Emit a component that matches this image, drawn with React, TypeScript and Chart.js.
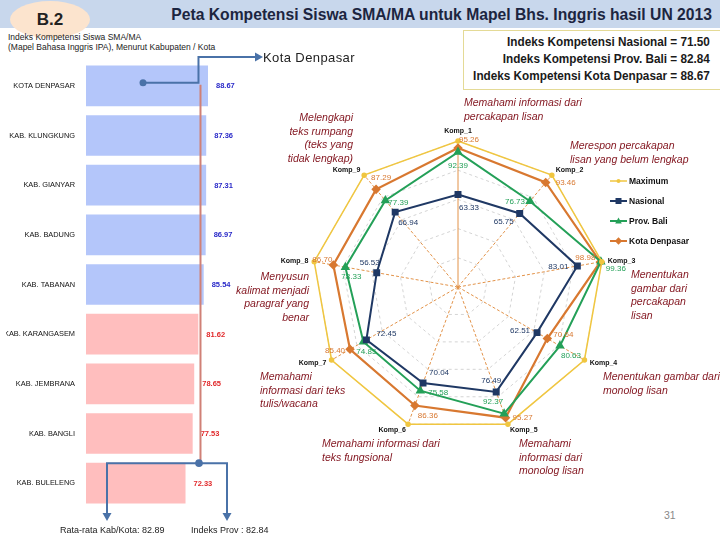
import React, { useEffect, useRef } from "react";
import { Chart, registerables } from "chart.js";
Chart.register(...registerables);

// ---------- DATA ----------
const regions = [
  "KOTA DENPASAR",
  "KAB. KLUNGKUNG",
  "KAB. GIANYAR",
  "KAB. BADUNG",
  "KAB. TABANAN",
  "KAB. KARANGASEM",
  "KAB. JEMBRANA",
  "KAB. BANGLI",
  "KAB. BULELENG",
];
const regionScores = [88.67, 87.36, 87.31, 86.97, 85.54, 81.62, 78.65, 77.53, 72.33];
const provIndex = 82.84;
const avgKabKota = 82.89;
const nationalIndex = 71.5;
const denpasarIndex = 88.67;

const kompLabels = ["Komp_1", "Komp_2", "Komp_3", "Komp_4", "Komp_5", "Komp_6", "Komp_7", "Komp_8", "Komp_9"];
const maximumValues = [100, 100, 100, 100, 100, 100, 100, 100, 100];
const nasionalValues = [63.33, 65.75, 83.01, 62.51, 76.49, 70.04, 72.45, 56.53, 66.94];
const provBaliValues = [92.39, 76.73, 99.36, 80.63, 92.37, 75.58, 74.85, 78.33, 77.39];
const denpasarValues = [95.26, 93.46, 98.98, 70.64, 95.27, 86.36, 85.4, 86.7, 87.29];

// label nudges (pixels) for the value labels, per point
const nasionalLabelNudge = [[11, 13], [-16, 8], [-19, 1], [-17, -2], [-5, -11], [16, -10], [20, -6], [-7, -10], [13, 11]];
const provLabelNudge = [[0, 14], [-15, 1], [15, 7], [11, 10], [-11, -12], [18, 2], [3, 10], [6, 10], [13, 2]];
const denpasarLabelNudge = [[11, -8], [20, 0], [-15, -4], [16, -4], [17, 0], [13, 10], [-15, 1], [-11, -5], [5, -12]];

const C_MAX = "rgb(240,198,64)";
const C_NAS = "rgb(31,56,100)";
const C_PROV = "rgb(36,160,88)";
const C_DPS = "rgb(216,120,48)";
const C_ARROW = "rgb(74,114,168)";
const FONT = '"Liberation Sans", Arial, sans-serif';

function arrowHead(ctx: CanvasRenderingContext2D, x: number, y: number, dir: "down" | "right") {
  ctx.beginPath();
  if (dir === "down") {
    ctx.moveTo(x - 4.5, y - 8);
    ctx.lineTo(x + 4.5, y - 8);
    ctx.lineTo(x, y);
  } else {
    ctx.moveTo(x - 8, y - 4.5);
    ctx.lineTo(x - 8, y + 4.5);
    ctx.lineTo(x, y);
  }
  ctx.closePath();
  ctx.fill();
}

const barDecor = {
  id: "barDecor",
  afterDatasetsDraw(chart: any) {
    const { ctx } = chart;
    const x = chart.scales.x;
    const y = chart.scales.y;
    const meta = chart.getDatasetMeta(0);
    ctx.save();
    ctx.font = "bold 7.5px " + FONT;
    ctx.textBaseline = "middle";
    ctx.textAlign = "left";
    meta.data.forEach((bar: any, i: number) => {
      const v = regionScores[i];
      ctx.fillStyle = v >= provIndex ? "rgb(40,40,200)" : "rgb(225,40,42)";
      ctx.fillText(v.toFixed(2), bar.x + 8, bar.y + 0.5);
    });
    // province index line
    const px = x.getPixelForValue(provIndex);
    const yTop = y.getPixelForValue(0) - 1;
    const yBot = y.getPixelForValue(regions.length - 1) - 20;
    ctx.strokeStyle = "rgb(208,128,118)";
    ctx.lineWidth = 2;
    ctx.beginPath();
    ctx.moveTo(px + 0.5, yTop);
    ctx.lineTo(px + 0.5, yBot);
    ctx.stroke();

    // connectors
    ctx.strokeStyle = C_ARROW;
    ctx.fillStyle = C_ARROW;
    ctx.lineWidth = 2;
    const cx = px - 1.5;
    const dotY = yTop - 2;
    ctx.beginPath();
    ctx.moveTo(143, dotY);
    ctx.lineTo(cx, dotY);
    ctx.lineTo(cx, 57);
    ctx.lineTo(256, 57);
    ctx.stroke();
    arrowHead(ctx, 263, 57, "right");
    ctx.beginPath();
    ctx.arc(143, dotY, 3.5, 0, Math.PI * 2);
    ctx.fill();

    ctx.beginPath();
    ctx.moveTo(107, 521 - 8);
    ctx.lineTo(107, yBot);
    ctx.lineTo(227, yBot);
    ctx.lineTo(227, 521 - 8);
    ctx.stroke();
    arrowHead(ctx, 107, 521, "down");
    arrowHead(ctx, 227, 521, "down");
    ctx.beginPath();
    ctx.arc(cx + 0.5, yBot, 3.8, 0, Math.PI * 2);
    ctx.fill();
    ctx.restore();
  },
};

function drawMarker(ctx: CanvasRenderingContext2D, style: string, x: number, y: number, r: number) {
  ctx.beginPath();
  if (style === "rect") {
    ctx.rect(x - r, y - r, 2 * r, 2 * r);
  } else if (style === "triangle") {
    ctx.moveTo(x, y - r * 1.2);
    ctx.lineTo(x + r * 1.1, y + r * 0.8);
    ctx.lineTo(x - r * 1.1, y + r * 0.8);
    ctx.closePath();
  } else if (style === "rectRot") {
    ctx.moveTo(x, y - r * 1.3);
    ctx.lineTo(x + r * 1.3, y);
    ctx.lineTo(x, y + r * 1.3);
    ctx.lineTo(x - r * 1.3, y);
    ctx.closePath();
  } else {
    ctx.arc(x, y, r, 0, Math.PI * 2);
  }
  ctx.fill();
}

const RADAR_LEFT = 250;
const RADAR_TOP = 90;

const radarDecor = {
  id: "radarDecor",
  afterDatasetsDraw(chart: any) {
    const { ctx } = chart;
    const scale = chart.scales.r;
    ctx.save();
    // point labels
    ctx.font = "bold 7px " + FONT;
    ctx.fillStyle = "#111";
    ctx.textBaseline = "middle";
    kompLabels.forEach((lab, i) => {
      const p = scale.getPointPosition(i, scale.drawingArea + 6);
      const dx = p.x - scale.xCenter;
      let yy = p.y;
      if (Math.abs(dx) < 3) {
        ctx.textAlign = "center";
        yy -= 4;
      } else if (dx > 0) ctx.textAlign = "left";
      else ctx.textAlign = "right";
      ctx.fillText(lab, p.x, yy);
    });

    // value labels
    const groups = [
      { ds: 1, vals: nasionalValues, nudge: nasionalLabelNudge, color: C_NAS },
      { ds: 2, vals: provBaliValues, nudge: provLabelNudge, color: C_PROV },
      { ds: 3, vals: denpasarValues, nudge: denpasarLabelNudge, color: C_DPS },
    ];
    ctx.font = "8px " + FONT;
    ctx.textAlign = "center";
    groups.forEach((g) => {
      const meta = chart.getDatasetMeta(g.ds);
      ctx.fillStyle = g.color;
      meta.data.forEach((pt: any, i: number) => {
        ctx.fillText(g.vals[i].toFixed(2), pt.x + g.nudge[i][0], pt.y + g.nudge[i][1]);
      });
    });

    // legend
    const items = [
      { label: "Maximum", color: C_MAX, style: "circle", r: 2, w: 1.5 },
      { label: "Nasional", color: C_NAS, style: "rect", r: 3, w: 2 },
      { label: "Prov. Bali", color: C_PROV, style: "triangle", r: 3, w: 2 },
      { label: "Kota Denpasar", color: C_DPS, style: "rectRot", r: 2.8, w: 2 },
    ];
    ctx.font = "bold 8.5px " + FONT;
    ctx.textAlign = "left";
    items.forEach((it, k) => {
      const ly = 181 + k * 20 - RADAR_TOP;
      const lx = 610 - RADAR_LEFT;
      ctx.strokeStyle = it.color;
      ctx.fillStyle = it.color;
      ctx.lineWidth = it.w;
      ctx.beginPath();
      ctx.moveTo(lx, ly);
      ctx.lineTo(lx + 17, ly);
      ctx.stroke();
      drawMarker(ctx, it.style, lx + 8.5, ly, it.r);
      ctx.fillStyle = "#111";
      ctx.fillText(it.label, lx + 19, ly + 0.5);
    });
    ctx.restore();
  },
};

type Note = { lines: string[]; x: number; y: number; align: "left" | "right" };
const notes: Note[] = [
  { lines: ["Memahami informasi dari", "percakapan lisan"], x: 464, y: 103, align: "left" },
  { lines: ["Melengkapi", "teks rumpang", "(teks yang", "tidak lengkap)"], x: 353, y: 118, align: "right" },
  { lines: ["Merespon percakapan", "lisan yang belum lengkap"], x: 570, y: 146, align: "left" },
  { lines: ["Menentukan", "gambar dari", "percakapan", "lisan"], x: 631, y: 275, align: "left" },
  { lines: ["Menentukan gambar dari", "monolog lisan"], x: 603, y: 377, align: "left" },
  { lines: ["Memahami informasi dari", "teks fungsional"], x: 322, y: 444, align: "left" },
  { lines: ["Memahami", "informasi dari", "monolog lisan"], x: 519, y: 444, align: "left" },
  { lines: ["Memahami", "informasi dari teks", "tulis/wacana"], x: 260, y: 377, align: "left" },
  { lines: ["Menyusun", "kalimat menjadi", "paragraf yang", "benar"], x: 309, y: 277, align: "right" },
];

export default function App() {
  const barRef = useRef<HTMLCanvasElement>(null);
  const radarRef = useRef<HTMLCanvasElement>(null);

  useEffect(() => {
    const bar = new Chart(barRef.current as HTMLCanvasElement, {
      type: "bar",
      data: {
        labels: regions,
        datasets: [
          {
            data: regionScores,
            backgroundColor: regionScores.map((v) => (v >= provIndex ? "rgb(180,198,250)" : "rgb(255,190,190)")),
            borderWidth: 0,
            barPercentage: 0.82,
            categoryPercentage: 1,
          },
        ],
      },
      options: {
        indexAxis: "y",
        responsive: false,
        animation: false,
        layout: { padding: { left: 6, top: 61, right: 46.4, bottom: 32 } },
        plugins: { legend: { display: false }, tooltip: { enabled: false } },
        scales: {
          x: { display: false, min: 0, max: 100 },
          y: {
            grid: { display: false, drawTicks: false },
            border: { display: false },
            ticks: { color: "#111", font: { size: 7.4, family: FONT }, padding: 11 },
            afterFit: (s: any) => {
              s.width = 80;
            },
          },
        },
      } as any,
      plugins: [barDecor],
    });

    const radar = new Chart(radarRef.current as HTMLCanvasElement, {
      type: "radar",
      data: {
        labels: kompLabels,
        datasets: [
          {
            label: "Maximum",
            data: maximumValues,
            borderColor: C_MAX,
            backgroundColor: C_MAX,
            pointBackgroundColor: C_MAX,
            pointBorderColor: C_MAX,
            borderWidth: 1.5,
            pointStyle: "circle",
            pointRadius: 2,
            fill: false,
          },
          {
            label: "Nasional",
            data: nasionalValues,
            borderColor: C_NAS,
            backgroundColor: C_NAS,
            pointBackgroundColor: C_NAS,
            pointBorderColor: C_NAS,
            borderWidth: 2,
            pointStyle: "rect",
            pointRadius: 3.5,
            fill: false,
          },
          {
            label: "Prov. Bali",
            data: provBaliValues,
            borderColor: C_PROV,
            backgroundColor: C_PROV,
            pointBackgroundColor: C_PROV,
            pointBorderColor: C_PROV,
            borderWidth: 2,
            pointStyle: "triangle",
            pointRadius: 3.5,
            fill: false,
          },
          {
            label: "Kota Denpasar",
            data: denpasarValues,
            borderColor: C_DPS,
            backgroundColor: C_DPS,
            pointBackgroundColor: C_DPS,
            pointBorderColor: C_DPS,
            borderWidth: 2.2,
            pointStyle: "rectRot",
            pointRadius: 3.2,
            fill: false,
          },
        ],
      },
      options: {
        responsive: false,
        animation: false,
        layout: { padding: { left: 62, top: 51, right: 116, bottom: 57 } },
        plugins: { legend: { display: false }, tooltip: { enabled: false } },
        scales: {
          r: {
            min: 0,
            max: 100,
            ticks: { display: false, stepSize: 20 },
            pointLabels: { display: false },
            grid: { color: "rgb(212,212,212)", lineWidth: 1 },
            border: { dash: [3, 3] },
            angleLines: {
              color: "rgb(226,146,72)",
              lineWidth: 1,
              borderDash: (c: any) => (c.index === 0 ? [] : [3, 2]),
            },
          },
        },
      } as any,
      plugins: [radarDecor],
    });

    return () => {
      bar.destroy();
      radar.destroy();
    };
  }, []);

  const abs = (s: React.CSSProperties): React.CSSProperties => ({ position: "absolute", whiteSpace: "pre", ...s });

  return (
    <div style={{ position: "fixed", left: 0, top: 0, width: 720, height: 540, background: "#fff", overflow: "hidden", fontFamily: FONT }}>
      {/* header band */}
      <div style={abs({ left: 0, top: 0, width: 720, height: 28, background: "rgb(200,215,236)" })} />
      <div style={abs({ left: 10, top: 1, width: 80, height: 37, borderRadius: "50%", background: "rgb(252,228,206)" })} />
      <div style={abs({ left: 10, top: 1, width: 80, height: 37, lineHeight: "37px", textAlign: "center", fontWeight: "bold", fontSize: 17, color: "#222" })}>B.2</div>
      <div style={abs({ right: 8, top: 5, lineHeight: "20px", fontWeight: "bold", fontSize: 15.7, color: "#1c2540" })}>
        Peta Kompetensi Siswa SMA/MA untuk Mapel Bhs. Inggris hasil UN 2013
      </div>
      <div style={abs({ left: 8, top: 32, fontSize: 8.5, lineHeight: "10px", color: "#222" })}>
        {"Indeks Kompetensi Siswa SMA/MA\n(Mapel Bahasa Inggris IPA), Menurut Kabupaten / Kota"}
      </div>

      {/* info box */}
      <div style={abs({ left: 463, top: 30, width: 270, height: 58, border: "1px solid rgb(228,218,150)", background: "#fff" })} />
      <div
        style={abs({
          right: 10,
          top: 34,
          textAlign: "right",
          fontWeight: "bold",
          fontSize: 12.5,
          lineHeight: "17px",
          color: "#1a1a1a",
          transform: "scaleX(0.94)",
          transformOrigin: "right top",
        })}
      >
        {`Indeks Kompetensi Nasional = ${nationalIndex.toFixed(2)}\nIndeks Kompetensi Prov. Bali = ${provIndex.toFixed(2)}\nIndeks Kompetensi Kota Denpasar = ${denpasarIndex.toFixed(2)}`}
      </div>

      <canvas ref={barRef} width={270} height={540} style={{ position: "absolute", left: 0, top: 0, display: "block" }} />
      <canvas ref={radarRef} width={470} height={400} style={{ position: "absolute", left: RADAR_LEFT, top: RADAR_TOP, display: "block" }} />

      <div style={abs({ left: 263, top: 49, fontSize: 13, lineHeight: "17px", letterSpacing: 0.4, color: "#222" })}>Kota Denpasar</div>
      <div style={abs({ left: 60, top: 524, fontSize: 9, lineHeight: "12px", color: "#222" })}>{`Rata-rata Kab/Kota: ${avgKabKota.toFixed(2)}`}</div>
      <div style={abs({ left: 191, top: 524, fontSize: 9, lineHeight: "12px", color: "#222" })}>{`Indeks Prov : ${provIndex.toFixed(2)}`}</div>

      {notes.map((n, i) => (
        <div
          key={i}
          style={abs(
            n.align === "left"
              ? { left: n.x, top: n.y - 6.7, lineHeight: "13.4px", fontSize: 10.5, fontStyle: "italic", color: "rgb(130,20,30)", textAlign: "left" }
              : { right: 720 - n.x, top: n.y - 6.7, lineHeight: "13.4px", fontSize: 10.5, fontStyle: "italic", color: "rgb(130,20,30)", textAlign: "right" }
          )}
        >
          {n.lines.join("\n")}
        </div>
      ))}

      <div style={abs({ left: 664, top: 508, fontSize: 10.5, lineHeight: "14px", color: "#888" })}>31</div>
    </div>
  );
}
